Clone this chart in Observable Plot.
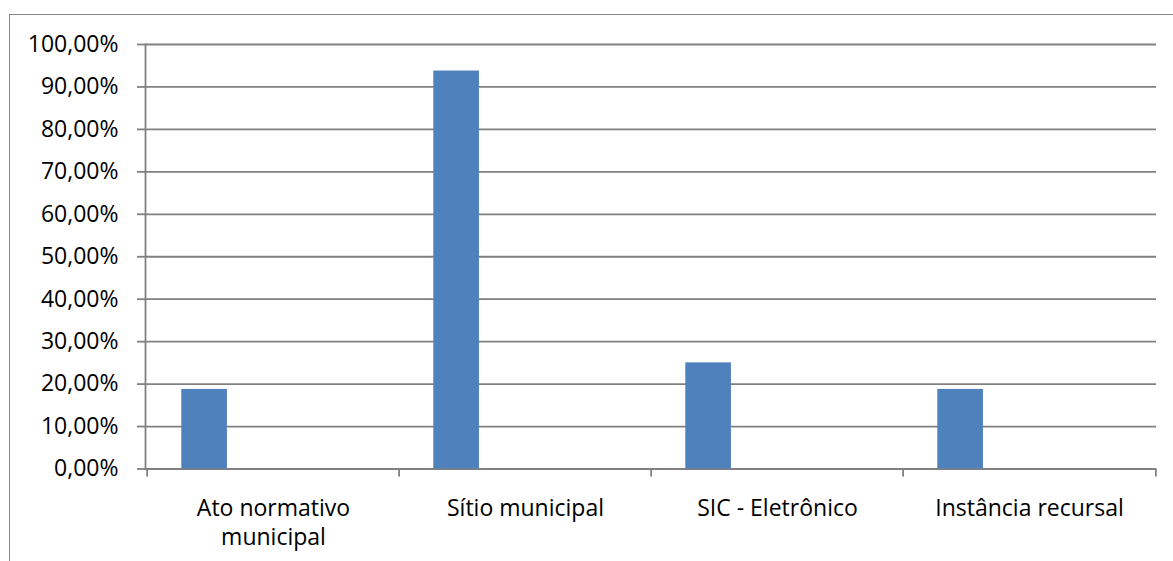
<!DOCTYPE html>
<html><head><meta charset="utf-8">
<script src="https://cdn.jsdelivr.net/npm/d3@7"></script>
<script src="https://cdn.jsdelivr.net/npm/@observablehq/plot@0.6"></script>
<style>
html,body{margin:0;padding:0;background:#fff;overflow:hidden;}
#wrap{position:relative;width:1173px;height:561px;}
#border{position:absolute;left:9px;top:14px;width:1200px;height:600px;border:1.6px solid #8a8a8a;box-sizing:border-box;}
#chart{position:absolute;left:0;top:0;}
</style></head><body>
<div id="wrap"><div id="border"></div><div id="chart"></div></div>
<script>
const categories = ["Ato normativo municipal", "Sítio municipal", "SIC - Eletrônico", "Instância recursal"];
const tickLabels = ["Ato normativo\nmunicipal", "Sítio municipal", "SIC - Eletrônico", "Instância recursal"];
const values = [0.1875, 0.9375, 0.25, 0.1875];
const yTicks = [0, 0.1, 0.2, 0.3, 0.4, 0.5, 0.6, 0.7, 0.8, 0.9, 1.0];

const W = 1173, H = 561;
const mL = 145, mR = 17, mT = 44, mB = 92.5;
const band = (W - mL - mR) / categories.length;
const barOffset = band * 0.1357, barWidth = band * 0.1835;
const grid = "#808080";
const ptBR = d3.formatLocale({decimal: ",", thousands: ".", grouping: [3], currency: ["R$ ", ""]});
const pct = ptBR.format(".2%");
const data = categories.map((c, i) => ({cat: c, value: values[i]}));

const plot = Plot.plot({
  width: W, height: H,
  marginLeft: mL, marginRight: mR, marginTop: mT, marginBottom: mB,
  style: {fontFamily: "'Open Sans', sans-serif", fontSize: "23px", color: "#000", background: "transparent", overflow: "visible"},
  x: {domain: categories, padding: 0, axis: null},
  y: {domain: [0, 1], axis: null},
  marks: [
    Plot.ruleY(yTicks, {y: d => d, stroke: grid, strokeWidth: 1.8}),
    Plot.frame({anchor: "left", stroke: grid, strokeWidth: 1.8}),
    Plot.axisY({ticks: yTicks, tickSize: 8, tickPadding: 19, tickFormat: pct, label: null, stroke: grid, strokeWidth: 1.8, strokeOpacity: 1, fill: "#000", fontSize: 23}),
    Plot.ruleX(categories, {x: d => d, dx: -band / 2, y1: 0, y2: 0, insetBottom: -8, stroke: grid, strokeWidth: 1.8}),
    Plot.ruleX([categories[categories.length - 1]], {x: d => d, dx: band / 2, y1: 0, y2: 0, insetBottom: -8, stroke: grid, strokeWidth: 1.8}),
    Plot.barY(data, {x: "cat", y: "value", fill: "#4F81BD", insetLeft: barOffset, insetRight: band - barOffset - barWidth}),
    Plot.axisX({tickSize: 0, tickPadding: 26.5, tickFormat: d => tickLabels[categories.indexOf(d)], label: null, lineHeight: 1.26, fill: "#000", fontSize: 23})
  ]
});
document.getElementById("chart").appendChild(plot);
</script>
</body></html>
